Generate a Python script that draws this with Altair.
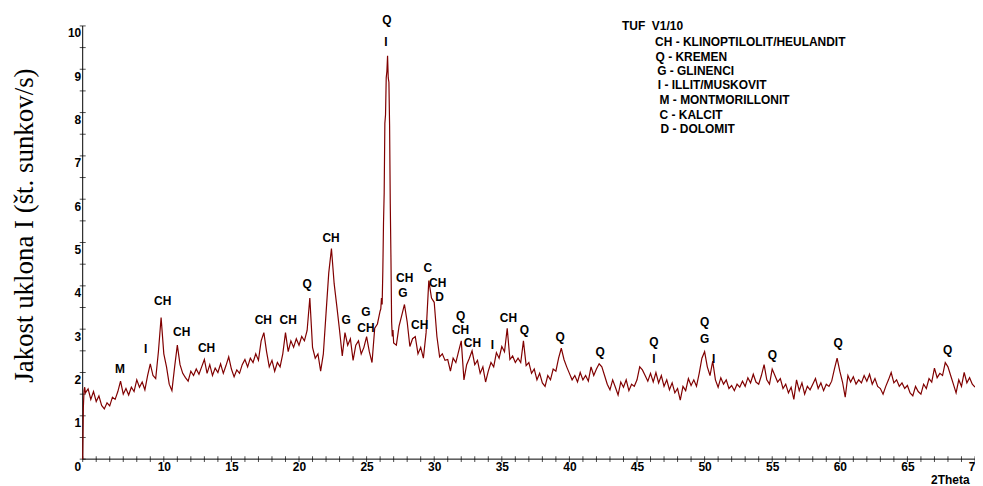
import altair as alt
import pandas as pd

# ---- diffraction pattern (2Theta start, step, intensities) ----
SEG0_START, SEG0_STEP = 4.0, 0.05
SEG0 = [0.00, 1.20, 1.58, 1.66]

SEGA_START, SEGA_STEP = 4.2, 0.2
SEGA = [1.53, 1.62, 1.38, 1.56, 1.33, 1.46, 1.24, 1.16, 1.30,
        1.23, 1.43, 1.38, 1.56, 1.80, 1.50, 1.63, 1.48, 1.66, 1.56,
        1.83, 1.66, 1.78, 1.60, 1.93, 2.20, 1.93, 1.86, 2.48, 3.27]

SEGB_START, SEGB_STEP = 10.0, 0.2
SEGB = [2.43, 2.13, 1.73, 1.58, 2.13, 2.63, 2.18, 1.98, 1.88, 1.80,
        2.03, 1.93, 2.08, 1.96, 2.13, 2.30, 1.98, 2.18, 1.93, 2.10,
        2.00, 2.20, 1.98, 2.16, 2.36, 2.08, 1.90, 2.06, 1.98, 2.18,
        2.30, 2.13, 2.33, 2.23, 2.43, 2.28, 2.73, 2.92, 2.48, 2.13,
        2.28, 2.03, 2.23, 2.13, 2.43, 2.92, 2.48, 2.73, 2.58, 2.78,
        2.63, 2.83, 2.73, 2.97, 3.72, 2.58, 2.33, 2.43, 2.03, 2.43]

SEGC_START, SEGC_STEP = 22.0, 0.2
SEGC = [3.37, 4.30, 4.86, 4.05, 3.52, 2.97, 2.38, 2.92, 2.63, 2.78,
        2.28, 2.63, 2.73, 2.43, 2.58, 2.83, 2.48, 2.23, 3.02, 3.12,
        3.42]

SEGP_START, SEGP_STEP = 26.05, 0.05
SEGP = [3.47, 3.72, 3.57, 4.35, 5.45, 6.15, 7.75, 7.95, 8.80, 8.95,
        9.31, 8.80, 8.70, 7.70, 5.90, 4.65, 3.17, 2.83, 2.98, 2.68]

SEGD_START, SEGD_STEP = 27.2, 0.2
SEGD = [2.63, 3.07, 3.32, 3.57, 3.17, 2.60, 2.78, 2.83, 2.43, 2.58,
        2.33, 2.92, 4.12, 3.72, 3.62, 2.83, 2.36, 2.43, 2.28, 2.30,
        2.03, 2.33, 2.23, 2.48, 2.73, 1.83, 2.18, 2.33, 2.50, 2.18,
        2.28, 1.98, 2.13, 1.78, 2.03, 2.23, 2.13, 2.46, 2.33, 2.60,
        2.48, 3.02, 2.30, 2.38, 2.23, 2.33, 2.23, 2.73, 2.16, 2.23,
        1.98, 2.08, 1.83, 1.98, 1.76, 1.68, 1.93, 1.83, 2.08, 2.03,
        2.33, 2.56, 2.30, 2.13, 1.98, 1.83, 1.93]

SEGE_START, SEGE_STEP = 40.6, 0.2
SEGE = [1.78, 2.00, 1.83, 1.93, 1.80, 2.13, 1.93, 2.08, 2.20, 2.13,
        1.93, 1.73, 1.60, 1.83, 1.66, 1.48, 1.78, 1.66, 1.83, 1.58,
        1.73, 1.68, 1.83, 2.13, 2.06, 1.93, 1.80, 1.98, 1.78, 2.00,
        1.76, 1.93, 1.68, 1.83, 1.60, 1.76, 1.53, 1.63, 1.36, 1.68,
        1.58, 1.86, 1.70, 1.83, 1.68, 1.98, 2.33, 2.48]

SEGF_START, SEGF_STEP = 50.2, 0.2
SEGF = [2.13, 1.93, 2.26, 1.83, 1.66, 1.88, 1.73, 1.83, 1.63, 1.70,
        1.58, 1.73, 1.66, 1.80, 1.68, 1.88, 1.76, 1.96, 1.78, 1.73,
        1.93, 2.18, 1.83, 1.73, 2.08, 1.93, 1.78, 1.86, 1.63, 1.73,
        1.53, 1.66, 1.38, 1.83, 1.58, 1.76, 1.50, 1.68, 1.60, 1.73,
        1.86, 1.63, 1.76, 1.58, 1.73, 1.68, 1.80, 2.08, 2.33, 2.03]

SEGG_START, SEGG_STEP = 60.2, 0.2
SEGG = [1.78, 1.43, 1.93, 1.78, 1.90, 1.73, 1.83, 1.76, 1.93, 1.80,
        1.96, 1.73, 1.86, 1.68, 1.63, 1.50, 1.68, 1.83, 2.00, 1.76,
        1.83, 1.68, 1.76, 1.63, 1.70, 1.53, 1.46, 1.68, 1.56, 1.50,
        1.73, 1.63, 1.86, 1.78, 2.10, 1.88, 1.98, 1.93, 2.23, 2.13,
        1.93, 1.73, 1.53, 1.83, 1.68, 2.00, 1.76, 1.88, 1.73, 1.66]

# ---- phase labels above peaks ----
PEAK_TEXT = ["M", "I", "CH", "CH", "CH", "CH", "CH", "Q", "CH", "G", "G", "CH",
             "Q", "I", "CH", "G", "CH", "C", "CH", "D", "Q", "CH", "CH", "I",
             "CH", "Q", "Q", "Q", "Q", "I", "Q", "G", "I", "Q", "Q", "Q"]
PEAK_X = [6.75, 8.66, 9.92, 11.32, 13.16, 17.36, 19.20, 20.60, 22.37, 23.48, 24.95, 24.95,
          26.50, 26.42, 27.82, 27.68, 28.93, 29.52, 30.26, 30.40, 31.95, 31.95, 32.83, 34.31,
          35.49, 36.67, 39.32, 42.27, 46.25, 46.25, 50.00, 50.00, 50.67, 55.02, 59.88, 67.98]
PEAK_Y = [2.09, 2.55, 3.66, 2.94, 2.57, 3.22, 3.22, 4.05, 5.10, 3.22, 3.40, 3.03,
          10.14, 9.63, 4.18, 3.84, 3.10, 4.41, 4.07, 3.75, 3.31, 2.97, 2.69, 2.64,
          3.26, 2.97, 2.83, 2.48, 2.71, 2.32, 3.17, 2.78, 2.32, 2.41, 2.69, 2.53]

# ---- key block ----
KEY_TEXT = ["TUF\u00a0 V1/10", "CH - KLINOPTILOLIT/HEULANDIT", "Q - KREMEN", "G - GLINENCI",
            "I - ILLIT/MUSKOVIT", "M - MONTMORILLONIT", "C - KALCIT", "D - DOLOMIT"]
KEY_X = [43.89, 46.34, 46.37, 46.49, 46.54, 46.67, 46.67, 46.74]
KEY_Y = [10.00, 9.62, 9.29, 8.95, 8.64, 8.30, 7.95, 7.62]

# ---- axis frame and tick positions ----
X_MIN, X_MAX = 4, 70
Y_MIN, Y_MAX = 0, 10
X_TICKS = list(range(4, 71))
Y_TICKS = [i * 0.5 for i in range(21)]

segments = [
    (SEG0_START, SEG0_STEP, SEG0), (SEGA_START, SEGA_STEP, SEGA),
    (SEGB_START, SEGB_STEP, SEGB), (SEGC_START, SEGC_STEP, SEGC),
    (SEGP_START, SEGP_STEP, SEGP), (SEGD_START, SEGD_STEP, SEGD),
    (SEGE_START, SEGE_STEP, SEGE), (SEGF_START, SEGF_STEP, SEGF),
    (SEGG_START, SEGG_STEP, SEGG),
]
rows = []
for start, step, vals in segments:
    for i, v in enumerate(vals):
        rows.append({"x": round(start + i * step, 3), "y": v})
df = pd.DataFrame(rows)
peaks = pd.DataFrame({"t": PEAK_TEXT, "x": PEAK_X, "y": PEAK_Y})
key = pd.DataFrame({"t": KEY_TEXT, "x": KEY_X, "y": KEY_Y})
frame = pd.DataFrame({
    "x": [X_MIN, X_MAX, X_MIN, X_MIN],
    "y": [Y_MIN, Y_MIN, Y_MIN, Y_MAX],
    "side": ["bottom", "bottom", "left", "left"],
})
xticks = pd.DataFrame({"x": X_TICKS, "y": [Y_MIN] * len(X_TICKS)})
yticks = pd.DataFrame({"x": [X_MIN] * len(Y_TICKS), "y": Y_TICKS})

FONT = "Liberation Sans"

x_scale = alt.Scale(domain=[X_MIN, X_MAX], nice=False, zero=False)
y_scale = alt.Scale(domain=[Y_MIN, Y_MAX], nice=False)

x_axis = alt.Axis(
    values=X_TICKS,
    labelExpr="(datum.value % 5 == 0 && datum.value >= 10) ? format(datum.value, 'd') : ''",
    domain=False, ticks=False, tickSize=3,
    labelPadding=2, labelFlush=False, labelOverlap=False,
    labelFont=FONT, labelFontWeight="bold", labelFontSize=12, labelColor="black",
    grid=False,
    title="2Theta", titleFont=FONT, titleFontWeight="bold", titleFontSize=12,
    titleColor="black", titleAlign="right", titleAnchor="end",
    titleX=890, titleY=20, titleBaseline="middle",
)
y_axis = alt.Axis(
    values=Y_TICKS,
    labelExpr="datum.value % 1 == 0 ? format(datum.value, 'd') : ''",
    domain=False, ticks=False, tickSize=3,
    labelPadding=2, labelOffset=7, labelOverlap=False,
    labelFont=FONT, labelFontWeight="bold", labelFontSize=12, labelColor="black",
    grid=False,
    title="Jakost uklona I (št. sunkov/s)", titleFont="Liberation Serif",
    titleFontWeight="normal", titleFontSize=27, titleColor="black",
    titleAngle=270, titleAlign="center", titleBaseline="middle",
    titleX=-58, titleY=200,
)

X_ENC = alt.X("x:Q", scale=x_scale, axis=x_axis)
Y_ENC = alt.Y("y:Q", scale=y_scale, axis=y_axis)

frame_lines = alt.Chart(frame).mark_line(color="black", strokeWidth=1).encode(
    x=X_ENC, y=Y_ENC, detail="side:N")
xtick_marks = alt.Chart(xticks).mark_tick(
    color="black", orient="vertical", size=6, thickness=1).encode(x=X_ENC, y=Y_ENC)
ytick_marks = alt.Chart(yticks).mark_tick(
    color="black", orient="horizontal", size=6, thickness=1).encode(x=X_ENC, y=Y_ENC)

line = alt.Chart(df).mark_line(color="#800000", strokeWidth=1.2).encode(x=X_ENC, y=Y_ENC)
peak_text = alt.Chart(peaks).mark_text(
    font=FONT, fontWeight="bold", fontSize=12, color="black",
    align="center", baseline="middle",
).encode(x=X_ENC, y=Y_ENC, text="t:N")
key_text = alt.Chart(key).mark_text(
    font=FONT, fontWeight="bold", fontSize=12, color="black",
    align="left", baseline="middle",
).encode(x=X_ENC, y=Y_ENC, text="t:N")

chart = alt.layer(frame_lines, xtick_marks, ytick_marks, line, peak_text, key_text).properties(
    width=896, height=435,
    autosize=alt.AutoSizeParams(type="none"),
    padding={"left": 75, "top": 17, "right": 0, "bottom": 30},
    background="white",
).configure_view(stroke=None)

chart.save("out.html", embed_options={"renderer": "svg", "actions": False})
